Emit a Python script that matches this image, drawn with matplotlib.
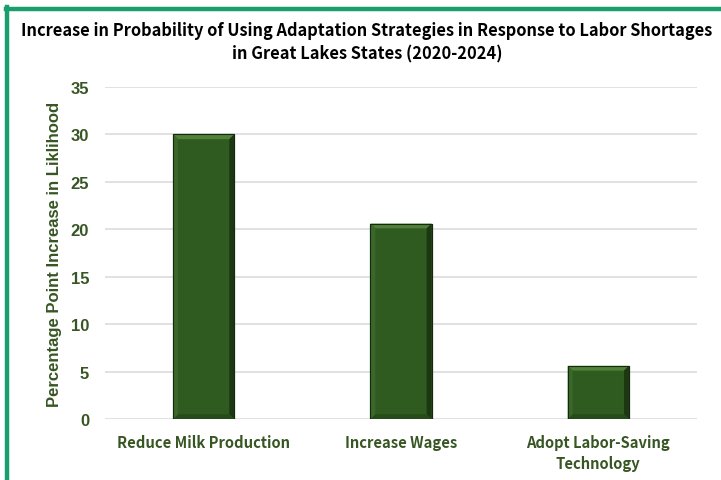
import matplotlib.pyplot as plt
from matplotlib.patches import Polygon, Rectangle

categories = ["Reduce Milk Production", "Increase Wages", "Adopt Labor-Saving\nTechnology"]
values = [30.0, 20.6, 5.6]
yticks = [0, 5, 10, 15, 20, 25, 30, 35]

dark_green = "#375623"
bar_green = "#2F5A20"
border_green = "#1A9E6E"
narrow = ["Noto Sans CJK SC", "DejaVu Sans"]

fig = plt.figure(figsize=(7.21, 4.81), dpi=100)
ax = fig.add_axes([0.1456, 0.1268, 0.8211, 0.6902])

bars = ax.bar(range(len(values)), values, width=0.31, color=bar_green,
              edgecolor="#16290D", linewidth=0.8, zorder=3)

# bevelled edges on each bar
bx, by = 0.025, 0.5
for b in bars:
    x, w, h = b.get_x(), b.get_width(), b.get_height()
    faces = [
        ([(x, h), (x + w, h), (x + w - bx, h - by), (x + bx, h - by)], "#4F8139"),
        ([(x + w, h), (x + w, 0), (x + w - bx, by), (x + w - bx, h - by)], "#1C3812"),
        ([(x, 0), (x + w, 0), (x + w - bx, by), (x + bx, by)], "#264B19"),
        ([(x, 0), (x, h), (x + bx, h - by), (x + bx, by)], "#39682A"),
    ]
    for pts, c in faces:
        ax.add_patch(Polygon(pts, closed=True, facecolor=c, edgecolor="none", zorder=4))
    ax.add_patch(Rectangle((x, 0), w, h, fill=False, edgecolor="#16290D",
                           linewidth=0.8, zorder=5))

ax.set_xlim(-0.5, 2.5)
ax.set_ylim(0, 35)
ax.set_yticks(yticks)
ax.grid(axis="y", color="#D9D9D9", linewidth=1.1, zorder=0)
for s in ax.spines.values():
    s.set_visible(False)
ax.tick_params(length=0)
ax.tick_params(axis="y", pad=11.5)
ax.tick_params(axis="x", pad=11)

ax.set_xticks(range(len(categories)))
ax.set_xticklabels(categories, fontsize=10.6, fontweight="bold", color=dark_green,
                   family=narrow, linespacing=1.4)
for lbl in ax.get_yticklabels():
    lbl.set_fontsize(12)
    lbl.set_fontweight("bold")
    lbl.set_color(dark_green)
    lbl.set_family("Liberation Sans")

ax.set_ylabel("Percentage Point Increase in Liklihood", fontsize=12,
              fontweight="bold", color=dark_green, family="Liberation Sans")
ax.yaxis.set_label_coords(-0.073, 0.5)

fig.text(0.509, 0.911, "Increase in Probability of Using Adaptation Strategies in Response to Labor Shortages\nin Great Lakes States (2020-2024)",
         ha="center", va="center", fontsize=11.8, fontweight="bold",
         family=narrow, linespacing=1.42)

# frame lines along the top and left
fig.add_artist(plt.Line2D([0.0085, 1.0], [1 - 10 / 481, 1 - 10 / 481],
                          color=border_green, linewidth=3.2))
fig.add_artist(plt.Line2D([7 / 721, 7 / 721], [0.0, 1 - 8 / 481],
                          color=border_green, linewidth=3.2))

fig.savefig("out.png", dpi=100, facecolor="white")
